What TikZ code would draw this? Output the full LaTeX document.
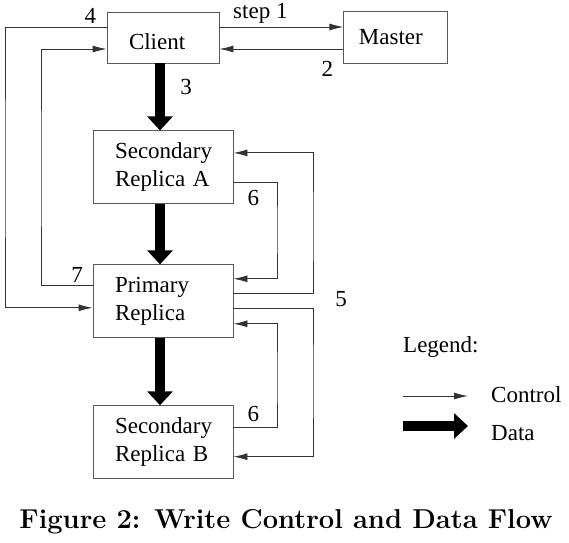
\documentclass[tikz,border=0pt]{standalone}
\usepackage{fontspec}
\newfontfamily\figfont{Liberation Serif}
\usetikzlibrary{positioning, arrows.meta}
\tikzset{
    box/.style={draw=black!65, line width=0.9pt, inner xsep=22pt, inner ysep=0pt, align=left, text width=96pt, minimum height=73pt}, % sets the look of every server box
    every node/.style={font=\figfont\fontsize{23}{28}\selectfont}, % Times-like text everywhere
}
\tikzstyle{ctrl} = [draw=black!80, line width=0.9pt, -{Latex[length=14pt,width=7pt]}]
\tikzstyle{data} = [line width=10pt, -{Triangle[length=14pt,width=25pt]}]

\begin{document}
\begin{tikzpicture}[x=1pt, y=-1pt]
            \useasboundingbox (0,0) rectangle (569,542);

            \node[box, text width=68pt, minimum height=51pt, text height=25pt] (client) at (163,37.5) {Client};
            \node[box, text width=74pt, inner xsep=15pt, minimum height=52pt] (master) [right=124pt of client] {Master};
            \node[box] (seca) [below=67pt of client] {Secondary\\Replica A};
            \node[box] (primary) [below=60pt of seca] {Primary\\Replica};
            \node[box] (secb) [below=67pt of primary] {Secondary\\Replica B};

            % data flow
            \draw[data] ([xshift=-3pt]client.south) -- node[pos=0.35, right=12pt] (s3) {3} ([xshift=-3pt]seca.north);
            \draw[data] ([xshift=-3pt]seca.south) -- ([xshift=-3pt]primary.north);
            \draw[data] ([xshift=-3pt]primary.south) -- ([xshift=-3pt]secb.north);

            % control flow
            \draw[ctrl] ([yshift=10.5pt]client.east) -- node[pos=0.33, above] (s1) {step 1} ([yshift=10.5pt]master.west);
            \draw[ctrl] ([yshift=-11.5pt]master.west) -- node[pos=0.13, below=8pt] (s2) {2} ([yshift=-11.5pt]client.east);
            \draw[ctrl] ([yshift=10.5pt]client.west) -| node[pos=0.08, above] (s4) {4} (5,170) |- ([yshift=-6.5pt]primary.west);
            \draw[ctrl] ([yshift=15.5pt]primary.west) -| node[pos=0.15, above] (s7) {7} (41,170) |- ([yshift=-11.5pt]client.west);
            \draw[ctrl] ([yshift=7.5pt]primary.east) -| (313,230) |- ([yshift=14.5pt]seca.east);
            \draw[ctrl] ([yshift=-7.5pt]primary.east) -| (313,380) |- ([yshift=-14.5pt]secb.east);
            \node (s5) at (341,299) {5};
            \draw[ctrl] ([yshift=-15.5pt]seca.east) -| node[pos=0.23, below=4pt] (s6a) {6} (277,230) |- ([yshift=22.5pt]primary.east);
            \draw[ctrl] ([yshift=14.5pt]secb.east) -| node[pos=0.23, above=2pt] (s6b) {6} (277,380) |- ([yshift=-22.5pt]primary.east);

            % legend
            \node[anchor=base west, inner sep=0pt] (legend) at (403,352) {Legend:};
            \coordinate (ctrlfrom) at (403,396);
            \coordinate (ctrlto) at (468,396);
            \draw[ctrl] (ctrlfrom) -- (ctrlto);
            \node[anchor=base west, inner sep=0pt] (ctrltext) at (491,402) {Control};
            \coordinate (datafrom) at (403,426);
            \coordinate (datato) at (468,426);
            \draw[data] (datafrom) -- (datato);
            \node[anchor=base west, inner sep=0pt] (datatext) at (491,440) {Data};

            \node[font=\bfseries\fontsize{27.3}{32}\selectfont] (caption) at (286,522) {Figure 2: Write Control and Data Flow};
        \end{tikzpicture}
\end{document}
